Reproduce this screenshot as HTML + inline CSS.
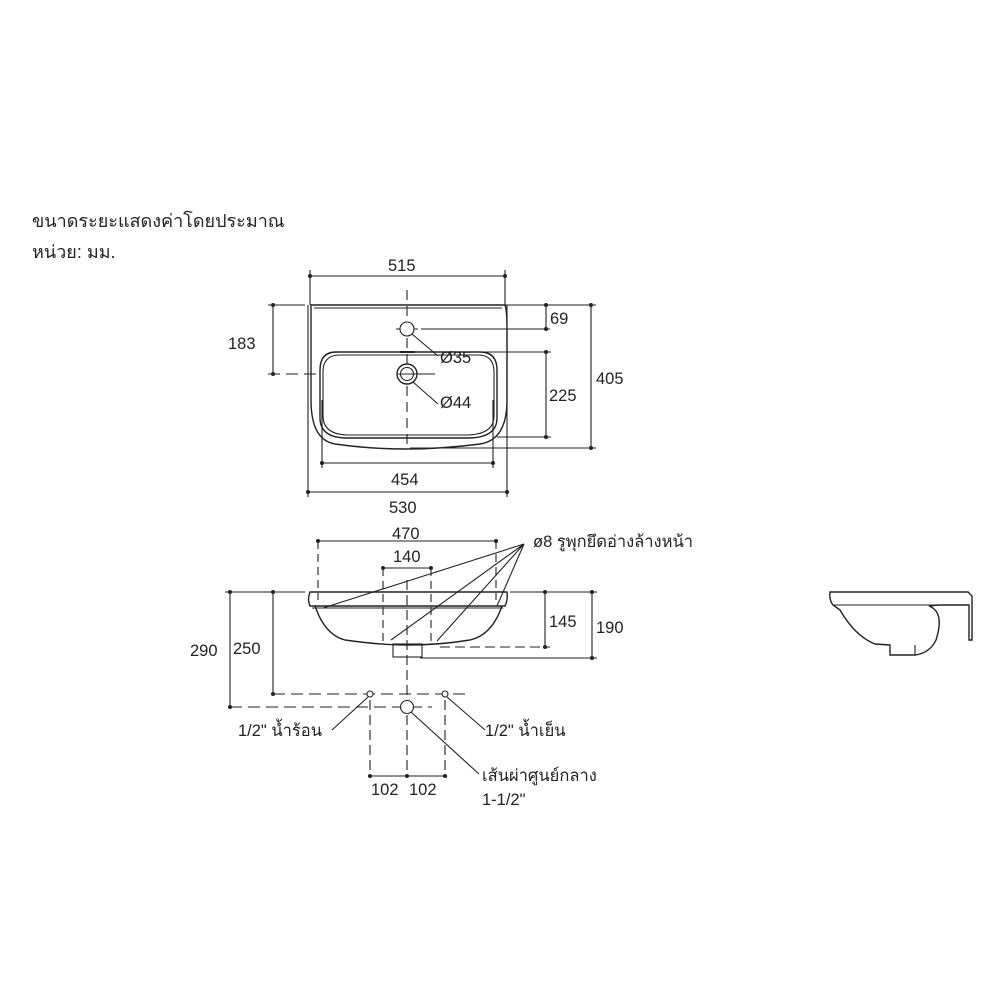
<!DOCTYPE html>
<html><head><meta charset="utf-8"><style>
html,body{margin:0;padding:0;background:#fff}
svg{display:block}
text{font-family:"Liberation Sans","DejaVu Sans",sans-serif;font-size:16.5px;fill:#222}
</style></head><body>
<svg width="1000" height="1000" viewBox="0 0 1000 1000" xmlns="http://www.w3.org/2000/svg">
<g stroke="#222" stroke-width="1.1" fill="none">
<!-- TOP VIEW -->
<line x1="310" y1="276" x2="505" y2="276"/>
<line x1="310" y1="270" x2="310" y2="305"/><line x1="505" y1="270" x2="505" y2="305"/>
<line x1="268" y1="305" x2="305" y2="305"/>
<line x1="505" y1="305" x2="596" y2="305"/>
<line x1="273" y1="305" x2="273" y2="374"/>
<line x1="268" y1="374" x2="318" y2="374" stroke-dasharray="12,6"/>
<line x1="546" y1="305" x2="546" y2="329"/>
<line x1="421" y1="329" x2="550" y2="329"/>
<line x1="546" y1="352" x2="546" y2="437"/>
<line x1="480" y1="352" x2="551" y2="352"/>
<line x1="497" y1="437" x2="551" y2="437"/>
<line x1="591" y1="305" x2="591" y2="448"/>
<line x1="410" y1="448" x2="596" y2="448"/>
<line x1="322" y1="463" x2="493" y2="463"/>
<line x1="322" y1="400" x2="322" y2="468"/><line x1="493" y1="400" x2="493" y2="468"/>
<line x1="308" y1="492" x2="507" y2="492"/>
<line x1="308" y1="305" x2="308" y2="497"/><line x1="507" y1="305" x2="507" y2="497"/>
<path d="M311 305 L505 305 Q507 310 507 330 L507 400 Q507 440 480 444 Q440 449 407 449 Q370 449 335 444 Q311 440 311 400 L311 330 Q311 310 311 305Z" stroke-width="1.4"/>
<path d="M314 308 L502 308"/>
<path d="M336 352 L480 352 Q497 352 497 370 L497 418 Q497 437 470 438 L345 438 Q320 437 320 418 L320 370 Q320 352 336 352Z" stroke-width="1.4"/>
<path d="M340 355 L478 355 Q494 355 494 372 L494 416 Q494 434 468 435 L347 435 Q323 434 323 416 L323 372 Q323 355 340 355Z"/>
<line x1="407" y1="290" x2="407" y2="450" stroke-dasharray="10,6"/>
<line x1="396" y1="329" x2="418" y2="329"/>
<circle cx="407" cy="329" r="7" fill="#fff"/>
<circle cx="407" cy="374" r="10" fill="#fff" stroke-width="1.4"/>
<circle cx="407" cy="374" r="6.5"/>
<line x1="398" y1="374" x2="435" y2="374"/>
<line x1="400" y1="352" x2="415" y2="352" stroke-width="2"/>
<line x1="412" y1="334" x2="438" y2="356"/>
<line x1="413" y1="382" x2="438" y2="404"/>
<!-- SIDE VIEW -->
<line x1="318" y1="541" x2="496" y2="541"/>
<line x1="318" y1="541" x2="318" y2="600" stroke-dasharray="8,5"/>
<line x1="496" y1="541" x2="496" y2="600" stroke-dasharray="8,5"/>
<line x1="383" y1="568" x2="431" y2="568"/>
<line x1="383" y1="568" x2="383" y2="645" stroke-dasharray="8,5"/>
<line x1="431" y1="568" x2="431" y2="645" stroke-dasharray="8,5"/>
<line x1="225" y1="592" x2="305" y2="592"/>
<line x1="510" y1="592" x2="597" y2="592"/>
<line x1="230" y1="592" x2="230" y2="707"/>
<line x1="273" y1="592" x2="273" y2="694"/>
<line x1="545" y1="592" x2="545" y2="647"/>
<line x1="592" y1="592" x2="592" y2="658"/>
<line x1="440" y1="647" x2="550" y2="647" stroke-dasharray="10,5"/>
<line x1="420" y1="658" x2="597" y2="658"/>
<path d="M310 592 L507 592 Q508 600 505 606 L310 606 Q307 600 310 592Z" stroke-width="1.4"/>
<line x1="312" y1="608" x2="503" y2="608"/>
<path d="M315 606 Q325 635 345 640 Q380 645 407 645 Q440 645 470 640 Q492 635 502 606" stroke-width="1.4"/>
<rect x="393" y="644" width="29" height="13"/>
<line x1="407" y1="580" x2="407" y2="770" stroke-dasharray="10,5"/>
<line x1="273" y1="694" x2="465" y2="694" stroke-dasharray="12,6"/>
<line x1="230" y1="707" x2="432" y2="707" stroke-dasharray="12,6"/>
<circle cx="370" cy="694" r="3" fill="#fff"/>
<circle cx="445" cy="694" r="3" fill="#fff"/>
<circle cx="407" cy="707" r="6.5" fill="#fff"/>
<line x1="370" y1="700" x2="370" y2="776" stroke-dasharray="10,5"/>
<line x1="445" y1="700" x2="445" y2="776" stroke-dasharray="10,5"/>
<line x1="370" y1="776" x2="445" y2="776"/>
<line x1="368" y1="697" x2="332" y2="730"/>
<line x1="447" y1="697" x2="485" y2="730"/>
<line x1="411" y1="712" x2="479" y2="774"/>
<line x1="524" y1="544" x2="323" y2="608"/>
<line x1="524" y1="544" x2="391" y2="640"/>
<line x1="524" y1="544" x2="437" y2="641"/>
<line x1="524" y1="544" x2="497" y2="606"/>
<!-- small side view -->
<path d="M830 592 L968 592 L972 596 L972 640 L969 640 L969 605 L938 605 L929 606 Q945 612 936 640 Q930 653 915 655 L890 655 L890 645 L875 644 Q855 636 840 610 L833 605 Q829 600 830 592Z" stroke-width="1.4"/>
<line x1="833" y1="605" x2="969" y2="605"/>
<line x1="915" y1="645" x2="915" y2="655"/>
</g>
<g fill="#222" stroke="none">
<circle cx="310" cy="276" r="2"/><circle cx="505" cy="276" r="2"/>
<circle cx="273" cy="305" r="2"/><circle cx="273" cy="374" r="2"/>
<circle cx="546" cy="305" r="2"/><circle cx="546" cy="329" r="2"/>
<circle cx="546" cy="352" r="2"/><circle cx="546" cy="437" r="2"/>
<circle cx="591" cy="305" r="2"/><circle cx="591" cy="448" r="2"/>
<circle cx="322" cy="463" r="2"/><circle cx="493" cy="463" r="2"/>
<circle cx="308" cy="492" r="2"/><circle cx="507" cy="492" r="2"/>
<circle cx="318" cy="541" r="2"/><circle cx="496" cy="541" r="2"/>
<circle cx="383" cy="568" r="2"/><circle cx="431" cy="568" r="2"/>
<circle cx="230" cy="592" r="2"/><circle cx="230" cy="707" r="2"/>
<circle cx="273" cy="592" r="2"/><circle cx="273" cy="694" r="2"/>
<circle cx="545" cy="592" r="2"/><circle cx="545" cy="647" r="2"/>
<circle cx="592" cy="592" r="2"/><circle cx="592" cy="658" r="2"/>
<circle cx="370" cy="776" r="2"/><circle cx="407" cy="776" r="2"/><circle cx="445" cy="776" r="2"/>
</g>
<text x="32" y="227" style="font-size:18px">ขนาดระยะแสดงค่าโดยประมาณ</text>
<text x="32" y="258" style="font-size:18px">หน่วย: มม.</text>
<text x="388" y="271">515</text>
<text x="228" y="349">183</text>
<text x="550" y="324">69</text>
<text x="440" y="363">Ø35</text>
<text x="440" y="408">Ø44</text>
<text x="549" y="401">225</text>
<text x="596" y="384">405</text>
<text x="391" y="485">454</text>
<text x="389" y="513">530</text>
<text x="392" y="539">470</text>
<text x="393" y="562">140</text>
<text x="533" y="547">ø8 รูพุกยึดอ่างล้างหน้า</text>
<text x="190" y="656">290</text>
<text x="233" y="654">250</text>
<text x="549" y="627">145</text>
<text x="596" y="633">190</text>
<text x="238" y="736">1/2" น้ำร้อน</text>
<text x="485" y="736">1/2" น้ำเย็น</text>
<text x="482" y="781">เส้นผ่าศูนย์กลาง</text>
<text x="482" y="805">1-1/2"</text>
<text x="371" y="795">102</text>
<text x="409" y="795">102</text>
</svg>
</body></html>
